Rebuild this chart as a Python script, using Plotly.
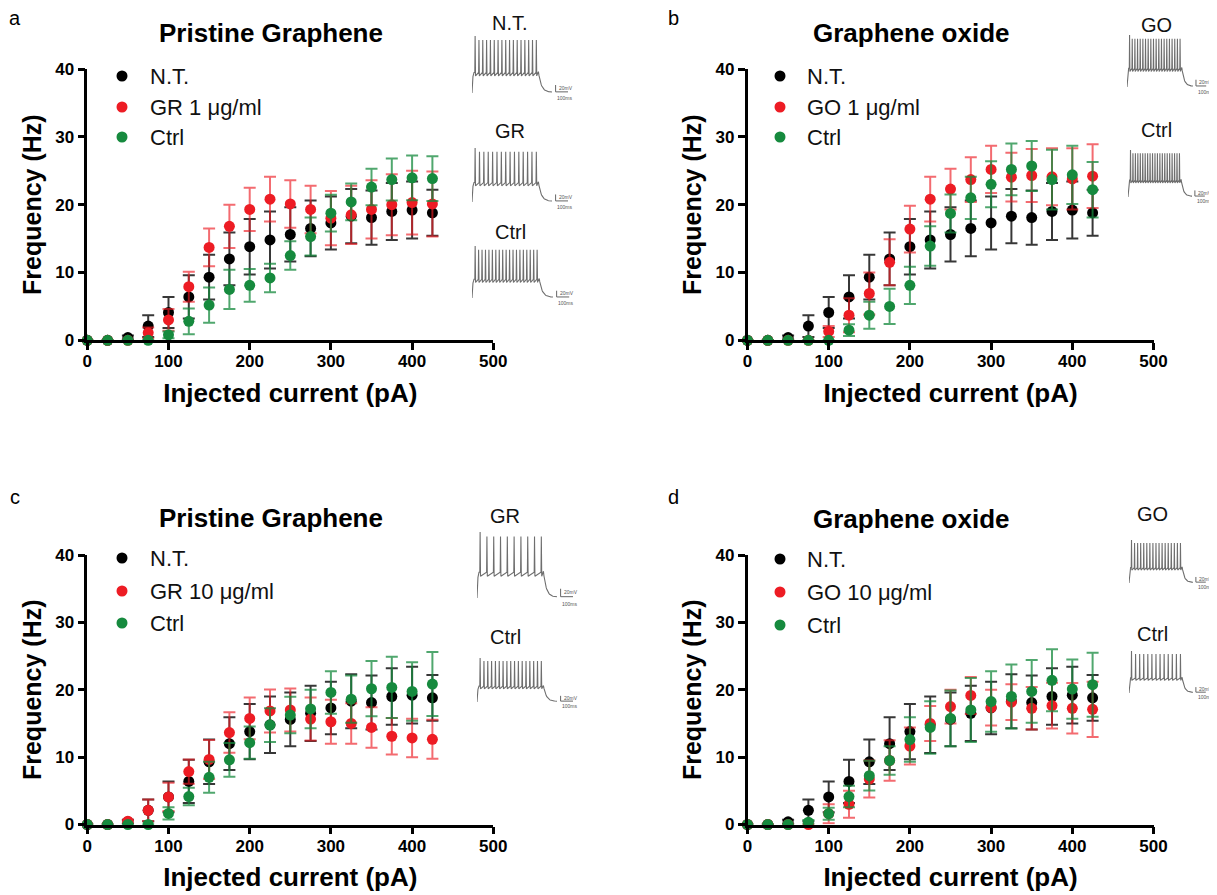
import numpy as np
import plotly.graph_objects as go

W, H = 1217, 895
FONT = "Liberation Sans, Arial, sans-serif"

# ---------------- data ----------------
current_pA = [0, 25, 50, 75, 100, 125, 150, 175, 200, 225, 250, 275, 300, 325, 350, 375, 400, 425]
x_ticks = [0, 100, 200, 300, 400, 500]
y_ticks = [0, 10, 20, 30, 40]

nt_hz = [0, 0, 0.4, 2.1, 4.1, 6.4, 9.3, 12.0, 13.8, 14.8, 15.6, 16.5, 17.3, 18.3, 18.1, 19.0, 19.2, 18.8]
nt_sem = [0, 0, 0.3, 1.6, 2.3, 3.2, 3.3, 3.9, 4.1, 4.2, 4.0, 4.1, 3.9, 4.0, 4.0, 4.2, 4.2, 3.4]

gr1_hz = [0, 0, 0, 1.1, 3.0, 7.9, 13.7, 16.8, 19.3, 20.8, 20.1, 19.3, 18.0, 18.5, 19.3, 20.0, 20.3, 20.1]
gr1_sem = [0, 0, 0, 0.8, 1.6, 2.2, 2.8, 3.2, 3.2, 3.3, 3.5, 3.5, 4.0, 4.3, 4.3, 4.5, 4.7, 4.8]
ctrl_a_hz = [0, 0, 0, 0, 0.8, 2.8, 5.2, 7.5, 8.1, 9.2, 12.5, 15.3, 18.75, 20.4, 22.6, 23.7, 23.95, 23.85]
ctrl_a_sem = [0, 0, 0, 0, 0.5, 1.9, 2.6, 2.9, 2.4, 2.1, 2.1, 2.8, 2.7, 2.7, 2.7, 3.1, 3.3, 3.3]

go1_hz = [0, 0, 0, 0, 1.3, 3.7, 6.9, 11.5, 16.4, 20.8, 22.3, 23.7, 25.2, 24.05, 24.3, 24.1, 23.8, 24.2]
go1_sem = [0, 0, 0, 0, 0.8, 2.5, 3.1, 3.4, 3.45, 3.3, 3.0, 3.3, 3.5, 3.6, 3.9, 4.2, 4.5, 4.7]
ctrl_b_hz = [0, 0, 0, 0, 0, 1.5, 3.7, 5.0, 8.1, 13.9, 18.7, 21.0, 23.0, 25.2, 25.7, 23.7, 24.4, 22.2]
ctrl_b_sem = [0, 0, 0, 0, 0, 0.85, 2.0, 2.6, 2.75, 2.9, 2.8, 3.1, 3.4, 3.8, 3.7, 4.4, 4.3, 4.1]

gr10_hz = [0, 0, 0.5, 2.1, 4.1, 7.85, 9.65, 13.65, 15.75, 16.85, 17.0, 15.65, 15.25, 15.0, 14.4, 13.1, 12.85, 12.65]
gr10_sem = [0, 0, 0.2, 1.6, 2.1, 1.8, 2.9, 3.0, 3.1, 3.2, 3.2, 3.2, 3.25, 3.0, 3.0, 2.7, 2.85, 2.9]
ctrl_c_hz = [0, 0, 0, 0, 1.65, 4.15, 7.0, 9.6, 12.15, 14.75, 16.25, 17.15, 19.6, 18.6, 20.15, 20.35, 19.75, 20.85]
ctrl_c_sem = [0, 0, 0, 0, 0.9, 1.3, 2.3, 2.5, 2.4, 2.5, 2.7, 2.85, 3.15, 3.5, 4.1, 4.55, 4.35, 4.75]

go10_hz = [0, 0, 0, 0, 1.6, 3.0, 6.75, 9.5, 11.65, 15.0, 17.5, 19.15, 17.35, 18.15, 17.25, 17.65, 17.25, 17.1]
go10_sem = [0, 0, 0, 0, 1.4, 2.0, 2.75, 3.0, 2.75, 2.6, 2.5, 2.75, 2.65, 2.65, 3.15, 3.4, 3.75, 4.1]
ctrl_d_hz = [0, 0, 0, 0.35, 1.6, 4.15, 7.25, 9.5, 12.6, 14.4, 15.75, 17.0, 18.25, 19.0, 19.75, 21.4, 20.1, 20.75]
ctrl_d_sem = [0, 0, 0, 0.3, 0.9, 1.6, 2.2, 2.1, 3.3, 3.9, 4.15, 4.75, 4.5, 4.75, 4.65, 4.6, 4.4, 4.75]

panel_letters = ["a", "b", "c", "d"]
panel_titles = ["Pristine Graphene", "Graphene oxide", "Pristine Graphene", "Graphene oxide"]
series_names = [
    ["N.T.", "GR 1 μg/ml", "Ctrl"],
    ["N.T.", "GO 1 μg/ml", "Ctrl"],
    ["N.T.", "GR 10 μg/ml", "Ctrl"],
    ["N.T.", "GO 10 μg/ml", "Ctrl"],
]
series_values = [
    [(nt_hz, nt_sem), (gr1_hz, gr1_sem), (ctrl_a_hz, ctrl_a_sem)],
    [(nt_hz, nt_sem), (go1_hz, go1_sem), (ctrl_b_hz, ctrl_b_sem)],
    [(nt_hz, nt_sem), (gr10_hz, gr10_sem), (ctrl_c_hz, ctrl_c_sem)],
    [(nt_hz, nt_sem), (go10_hz, go10_sem), (ctrl_d_hz, ctrl_d_sem)],
]
inset_labels = [["N.T.", "GR", "Ctrl"], ["GO", "Ctrl"], ["GR", "Ctrl"], ["GO", "Ctrl"]]
inset_spike_counts = [[17, 15, 19], [20, 21], [10, 17], [17, 13]]

# ---------------- styles / geometry ----------------
COLORS = ["#000000", "#ED1C24", "#168A3E"]
ERR_COLORS = ["rgba(20,20,20,0.85)", "rgba(237,28,36,0.65)", "rgba(22,138,62,0.75)"]

OFF = 8  # page body margin offset in the browser


def px(x):
    return (x - OFF) / W


def py(y):
    return 1 - (y - OFF) / H


# plot areas in pixels: x0 (0 pA), x1 (500 pA), y0 (0 Hz), y1 (40 Hz)
PANEL_BOX = [
    (87.3, 493.3, 340.3, 69.0),
    (747.5, 1153.5, 340.3, 69.0),
    (87.3, 493.3, 824.5, 555.0),
    (747.5, 1153.5, 824.5, 555.0),
]
TITLE_POS = [(271, 33), (912, 33), (271, 518), (912, 519)]
LETTER_POS = [(15, 18), (673, 18), (15, 497), (673, 497)]
LEGEND_POS = [  # marker x, text x, row y's
    (122, 148, [76, 107, 137]),
    (780, 805, [76, 107, 137]),
    (122, 148, [558, 591, 623]),
    (780, 805, [559, 592, 625]),
]
# inset: label x, label y, trace left, trace right, spike top, rest level
INSET_POS = [
    [(510, 23, 472, 552, 36, 93), (510, 131, 472, 552, 148, 202), (510, 232, 472, 553, 246, 298)],
    [(1156, 25, 1127, 1193, 35, 87), (1156, 130, 1128, 1192, 150, 197)],
    [(505, 516, 477, 557, 532, 598), (505, 637, 477, 557, 658, 702)],
    [(1152, 514, 1129, 1193, 540, 583), (1152, 634, 1129, 1193, 651, 693)],
]

fig = go.Figure()
layout = dict(
    width=W, height=H, margin=dict(l=0, r=0, t=0, b=0),
    paper_bgcolor="white", plot_bgcolor="rgba(0,0,0,0)",
    showlegend=False, font=dict(family=FONT, color="black"),
)
annotations = []
shapes = []

for p in range(4):
    n = p + 1
    xa = "x" if n == 1 else f"x{n}"
    ya = "y" if n == 1 else f"y{n}"
    x0, x1, y0, y1 = PANEL_BOX[p]
    axis_common = dict(
        showline=True, linewidth=2.5, linecolor="black", ticks="outside",
        ticklen=7, tickwidth=2.5, tickcolor="black", showgrid=False, zeroline=False,
        tickfont=dict(family=FONT, size=17, weight="bold", color="black"),
        automargin=False,
    )
    layout["xaxis" if n == 1 else f"xaxis{n}"] = dict(
        axis_common, domain=[px(x0), px(x1)], range=[0, 500], tickvals=x_ticks,
        anchor=ya, ticklabelstandoff=-3,
        title=dict(text="Injected current (pA)", standoff=14,
                   font=dict(family=FONT, size=26, weight="bold")),
    )
    layout["yaxis" if n == 1 else f"yaxis{n}"] = dict(
        axis_common, domain=[py(y0), py(y1)], range=[0, 40], tickvals=y_ticks,
        anchor=xa,
        title=dict(text="Frequency (Hz)", standoff=7,
                   font=dict(family=FONT, size=25, weight="bold")),
    )
    for s in range(3):
        vals, errs = series_values[p][s]
        fig.add_trace(go.Scatter(
            x=current_pA, y=vals, mode="markers", xaxis=xa, yaxis=ya,
            name=series_names[p][s], cliponaxis=False,
            marker=dict(size=11, color=COLORS[s], line=dict(width=0)),
            error_y=dict(type="data", array=errs, visible=True, color=ERR_COLORS[s],
                         thickness=2, width=6),
        ))
    # title and panel letter
    tx, ty = TITLE_POS[p]
    annotations.append(dict(text=panel_titles[p], x=px(tx), y=py(ty), xref="paper", yref="paper",
                            showarrow=False, xanchor="center", yanchor="middle",
                            font=dict(family=FONT, size=26, weight="bold")))
    lx, ly = LETTER_POS[p]
    annotations.append(dict(text=panel_letters[p], x=px(lx), y=py(ly), xref="paper", yref="paper",
                            showarrow=False, xanchor="center", yanchor="middle",
                            font=dict(family=FONT, size=20)))
    # legend
    mx, txx, rows = LEGEND_POS[p]
    for s in range(3):
        r = 5.5
        shapes.append(dict(type="circle", xref="paper", yref="paper",
                           x0=px(mx - r), x1=px(mx + r), y0=py(rows[s] + r), y1=py(rows[s] - r),
                           fillcolor=COLORS[s], line=dict(width=0)))
        annotations.append(dict(text=series_names[p][s], x=px(txx), y=py(rows[s]), xref="paper",
                                yref="paper", showarrow=False, xanchor="left", yanchor="middle",
                                font=dict(family=FONT, size=22, color="#111")))


def spike_train(n_spikes, plateau):
    """Illustrative current-clamp trace in normalised units (0..1 time, 0..1 voltage)."""
    xs = [0.0, 0.012, 0.025]
    ys = [0.0, plateau * 0.8, plateau]
    times = np.linspace(0.035, 0.80, n_spikes)
    for i, t in enumerate(times):
        peak = 1.0 if i == 0 else 0.93
        xs += [t, t + 0.004, t + 0.009]
        ys += [plateau, peak, plateau - 0.06]
    xs.append(0.825)
    ys.append(plateau)
    td = np.linspace(0.83, 1.0, 25)
    xs += list(td)
    ys += list(plateau * np.exp(-(td - 0.83) / 0.035) + 0.015)
    return xs, ys


ax_idx = 5
for p in range(4):
    for k, (lx, ly, L, R, T, B) in enumerate(INSET_POS[p]):
        xa = f"x{ax_idx}"
        ya = f"y{ax_idx}"
        wpx = R - L
        hpx = B - T
        layout[f"xaxis{ax_idx}"] = dict(domain=[px(L), px(L + 1.3 * wpx)], range=[0, 1.3],
                                        visible=False, anchor=ya, fixedrange=True)
        layout[f"yaxis{ax_idx}"] = dict(domain=[py(B + 0.25 * hpx), py(T)], range=[-0.25, 1.0],
                                        visible=False, anchor=xa, fixedrange=True)
        plateau = 0.39 if inset_spike_counts[p][k] <= 10 else 0.36
        tx_, ty_ = spike_train(inset_spike_counts[p][k], plateau)
        fig.add_trace(go.Scatter(x=tx_, y=ty_, mode="lines", xaxis=xa, yaxis=ya,
                                 line=dict(color="#6e6e6e", width=1.1), hoverinfo="skip"))
        fig.add_trace(go.Scatter(x=[1.045, 1.045, 1.2], y=[0.14, 0.02, 0.02], mode="lines",
                                 xaxis=xa, yaxis=ya, line=dict(color="#666", width=1),
                                 hoverinfo="skip"))
        annotations.append(dict(text="20mV", x=1.06, y=0.09, xref=xa, yref=ya, showarrow=False,
                                xanchor="left", yanchor="middle",
                                font=dict(family=FONT, size=5, color="#555")))
        annotations.append(dict(text="100ms", x=1.04, y=-0.09, xref=xa, yref=ya, showarrow=False,
                                xanchor="left", yanchor="middle",
                                font=dict(family=FONT, size=5, color="#555")))
        annotations.append(dict(text=inset_labels[p][k], x=px(lx), y=py(ly), xref="paper",
                                yref="paper", showarrow=False, xanchor="center", yanchor="middle",
                                font=dict(family=FONT, size=20, color="#111")))
        ax_idx += 1

layout["annotations"] = annotations
layout["shapes"] = shapes
fig.update_layout(**layout)
fig.write_html("out.html")
